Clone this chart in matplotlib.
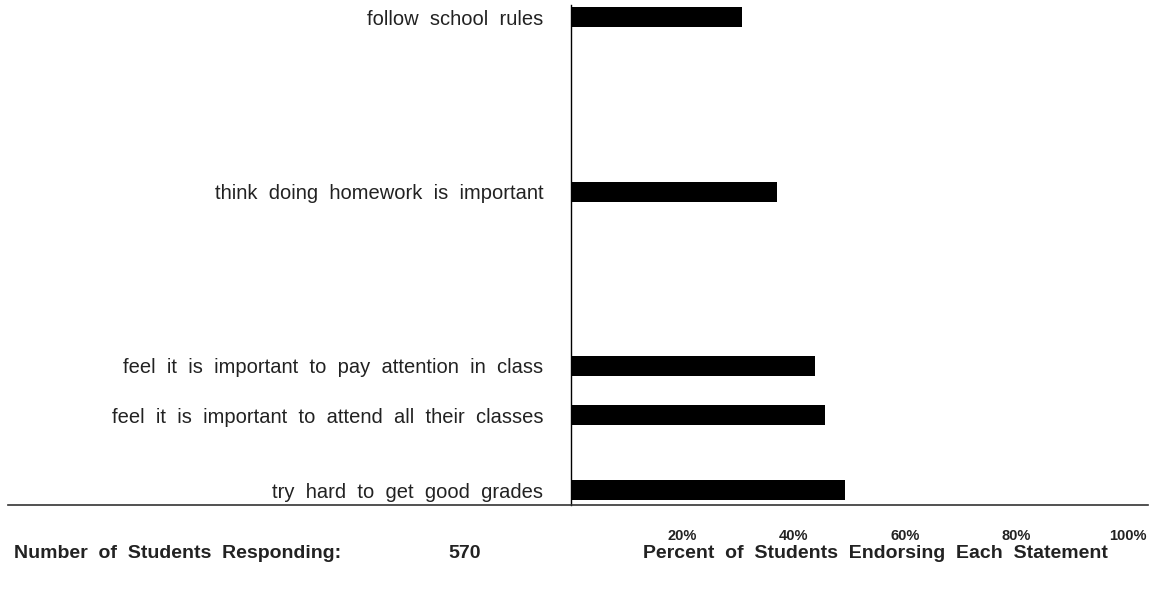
import matplotlib
matplotlib.use("Agg")
import matplotlib.pyplot as plt
from matplotlib.lines import Line2D

plt.rcParams["font.family"] = ["Liberation Sans", "DejaVu Sans"]

statements = [
    "try hard to get good grades",
    "feel it is important to attend all their classes",
    "feel it is important to pay attention in class",
    "think doing homework is important",
    "follow school rules",
]
percent_endorsing = [49.2, 45.6, 43.8, 37.0, 30.7]
tick_values = [20, 40, 60, 80, 100]
tick_labels = ["20%", "40%", "60%", "80%", "100%"]
n_responding = 570

# vertical slots used by the original layout (bottom to top)
slots = [0, 3, 5, 12, 19]


def spaced(text):
    # the original typesetting has wide word gaps
    return "  ".join(text.split(" "))


W, H = 1152, 590
fig = plt.figure(figsize=(W / 100, H / 100), dpi=100)
ax = fig.add_axes([571 / W, (H - 505) / H, (1128 - 571) / W, 500 / H])

ax.barh(slots, percent_endorsing, height=0.8, color="black")
ax.set_xlim(0, 100)
ax.set_ylim(-0.6, 19.5)

for side in ("top", "right", "bottom"):
    ax.spines[side].set_visible(False)
ax.spines["left"].set_linewidth(1.0)

ax.set_yticks(slots)
ax.set_yticklabels([spaced(s) for s in statements], fontsize=14.5, color="#222222")
ax.tick_params(axis="y", length=0, pad=20)

ax.set_xticks(tick_values)
ax.set_xticklabels(tick_labels, fontsize=10.5, fontweight="bold", color="#222222")
ax.tick_params(axis="x", length=0, pad=17)

# long baseline running under the labels
fig.add_artist(Line2D([8 / W, 1148 / W], [(H - 505) / H] * 2,
                      color="#333333", linewidth=1.2))

bottom_y = (H - 553) / H
fig.text(14 / W, bottom_y, spaced("Number of Students Responding:"),
         fontsize=14, fontweight="bold", va="center", ha="left", color="#222222")
fig.text(448 / W, bottom_y, str(n_responding),
         fontsize=14, fontweight="bold", va="center", ha="left", color="#222222")
fig.text(643 / W, bottom_y, spaced("Percent of Students Endorsing Each Statement"),
         fontsize=14, fontweight="bold", va="center", ha="left", color="#222222")

fig.savefig("out.png", dpi=100)
